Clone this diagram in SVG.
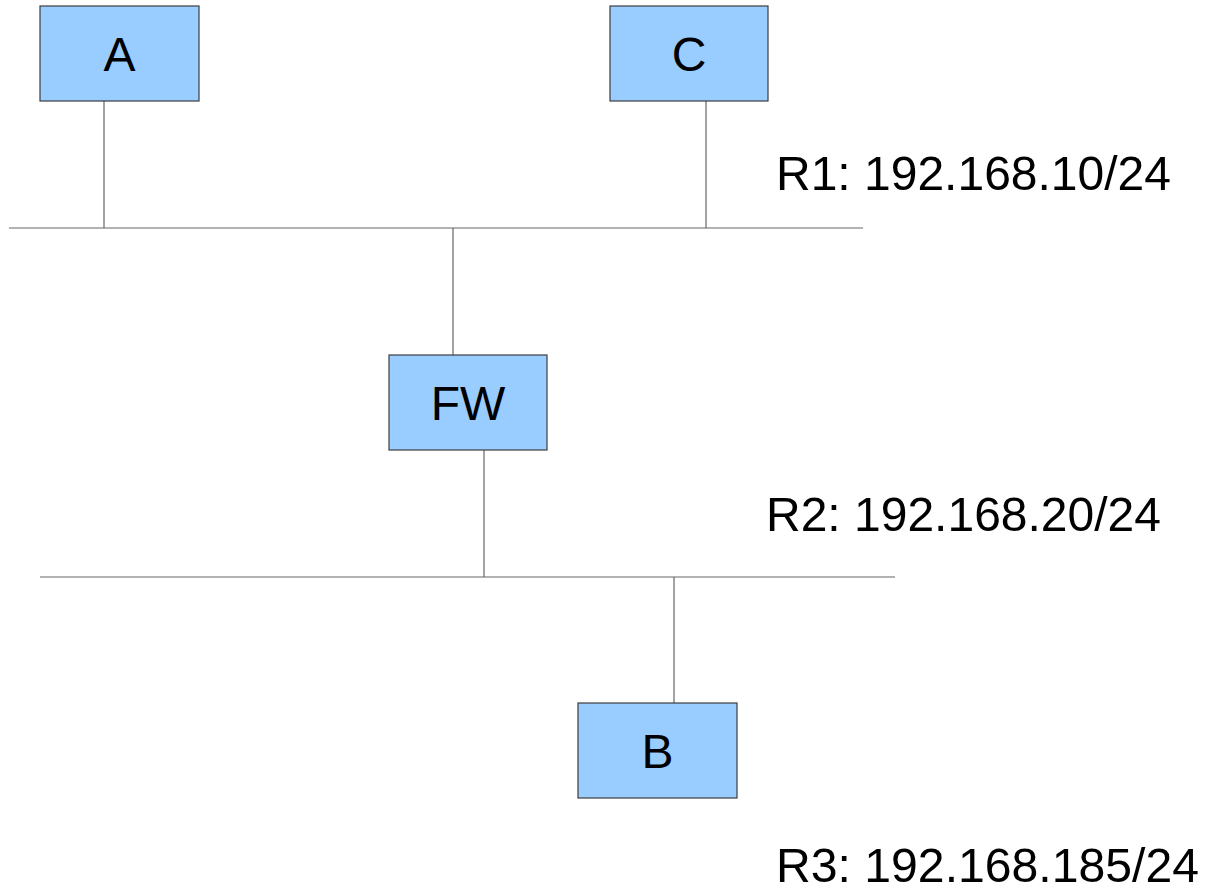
<svg xmlns="http://www.w3.org/2000/svg" width="1208" height="890" viewBox="0 0 1208 890">
<style>
.box{fill:#99ccff;stroke:#3c3c3c;stroke-width:1.2}
.lbl{font-family:"Liberation Sans",Arial,sans-serif;font-size:48px;fill:#000}
.net{font-family:"Liberation Sans",Arial,sans-serif;font-size:49px;fill:#000}
.wire{stroke:#666;stroke-width:1.2;fill:none}
</style>
<rect width="1208" height="890" fill="#fff"/>
<g id="connectors">
<line class="wire" x1="9" y1="228" x2="863" y2="228"/>
<line class="wire" x1="104" y1="101" x2="104" y2="228"/>
<line class="wire" x1="706" y1="101" x2="706" y2="228"/>
<line class="wire" x1="453" y1="228" x2="453" y2="355"/>
<line class="wire" x1="40" y1="577" x2="895" y2="577"/>
<line class="wire" x1="484" y1="450" x2="484" y2="577"/>
<line class="wire" x1="674" y1="577" x2="674" y2="703"/>
</g>
<g id="node-A">
<rect class="box" x="40" y="6" width="159" height="95"/>
<text class="lbl" x="119.5" y="70.5" text-anchor="middle">A</text>
</g>
<g id="node-C">
<rect class="box" x="610" y="6" width="158" height="95"/>
<text class="lbl" x="689" y="70.5" text-anchor="middle">C</text>
</g>
<g id="node-FW">
<rect class="box" x="389" y="355" width="158" height="95"/>
<text class="lbl" x="468" y="419.5" text-anchor="middle">FW</text>
</g>
<g id="node-B">
<rect class="box" x="578" y="703" width="159" height="95"/>
<text class="lbl" x="657.5" y="767.5" text-anchor="middle">B</text>
</g>
<g id="labels">
<text class="net" x="776" y="189.5" textLength="395" lengthAdjust="spacingAndGlyphs">R1: 192.168.10/24</text>
<text class="net" x="766" y="531" textLength="395" lengthAdjust="spacingAndGlyphs">R2: 192.168.20/24</text>
<text class="net" x="776" y="882" textLength="423" lengthAdjust="spacingAndGlyphs">R3: 192.168.185/24</text>
</g>
</svg>
